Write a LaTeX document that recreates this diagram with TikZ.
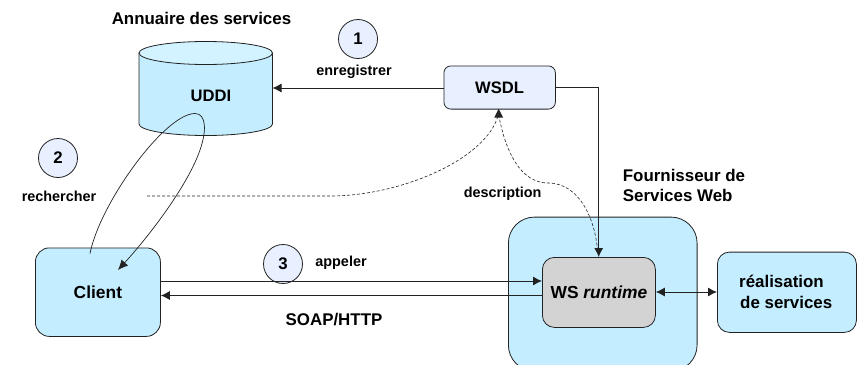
\documentclass[tikz,border=0pt]{standalone}
\usepackage{fontspec}
\setmainfont{Liberation Sans}
\usetikzlibrary{arrows.meta}
\definecolor{boxblue}{HTML}{C4EEFF}
\definecolor{topblue}{HTML}{D2F3FF}
\definecolor{paleblue}{HTML}{E8EFFF}
\definecolor{wsgray}{HTML}{D3D3D3}
\definecolor{edge}{HTML}{222222}
\tikzset{
  x=1pt,y=-1pt,
  every node/.style={font=\bfseries\fontsize{16.6}{20}\selectfont,inner sep=0pt,text=black},
  smalltxt/.style={font=\bfseries\fontsize{14.4}{17}\selectfont},
  bigtxt/.style={font=\bfseries\fontsize{16.9}{20}\selectfont},
  rbox/.style={draw=edge,line width=0.8pt,fill=boxblue,rounded corners=#1},
  rbox/.default=14pt,
  num/.style={circle,draw=edge,line width=0.8pt,fill=paleblue,minimum size=39pt,font=\bfseries\fontsize{16.8}{20}\selectfont},
  conn/.style={draw=edge,line width=0.9pt,-{Latex[length=9pt,width=9pt]}},
  dashline/.style={draw=edge,line width=0.6pt,dash pattern=on 3pt off 2pt},
}
\begin{document}
\begin{tikzpicture}
\useasboundingbox (0,0) rectangle (861,364);
% provider
\node[rbox=26pt,anchor=north west,minimum width=188.7pt,minimum height=154pt] (prov) at (508,216.7) {};
% UDDI cylinder
\path[draw=edge,line width=0.8pt,fill=boxblue] (139,53) -- (139,124) arc[start angle=180,end angle=360,x radius=66.75pt,y radius=11.5pt] -- (272.5,53) -- cycle;
\path[draw=edge,line width=0.8pt,fill=topblue] (205.75,53) ellipse[x radius=66.75pt,y radius=11.5pt];
\node (uddi) at (211,96) {UDDI};
\coordinate (uddiport) at (272.5,88);
\node[bigtxt] (annu) at (201.5,18) {Annuaire des services};
% boxes
\node[rbox=7pt,fill=paleblue,anchor=north west,minimum width=111.5pt,minimum height=43.2pt] (wsdl) at (443.5,65.5) {WSDL};
\node[rbox,anchor=north west,minimum width=125pt,minimum height=88.5pt] (client) at (35,247.5) {\fontsize{17.4}{20}\selectfont Client};
\node[rbox=12pt,fill=wsgray,anchor=north west,minimum width=113pt,minimum height=70pt] (ws) at (542,257) {\fontsize{17.4}{20}\selectfont WS \textit{runtime}};
\node[rbox=12pt,anchor=north west,minimum width=139pt,minimum height=80.3pt] (real) at (717,251.7) {};
\node[bigtxt,anchor=west] (real1) at (739,281.5) {réalisation};
\node[bigtxt,anchor=west] (real2) at (740,302.5) {de services};
% numbers and labels
\node[num] (n1) at (358,39) {1};
\node[num] (n2) at (58,158) {2};
\node[num] (n3) at (283,264) {3};
\node[smalltxt] (l1) at (354,72) {enregistrer};
\node[smalltxt] (l2) at (59,196) {rechercher};
\node[smalltxt] (l3) at (341,263) {appeler};
\node[smalltxt] (l4) at (502.7,194) {description};
\node[bigtxt] (soap) at (334,320) {SOAP/HTTP};
\node[bigtxt,anchor=west] (f1) at (622.7,175) {Fournisseur de};
\node[bigtxt,anchor=west] (f2) at (622.7,195) {Services Web};
% coordinates
\coordinate (a1) at (90,253.5);
\coordinate (a2) at (118,270);
\coordinate (top) at (195,113.5);
\coordinate (d0) at (147,196);
\coordinate (dtop) at (498.7,108.7);
\coordinate (dmid) at (548,183);
\coordinate (wstop) at (598.7,257);
\coordinate (wstopd) at (597.5,250);
% connectors
\draw[conn] (wsdl.west |- uddiport) -- (uddiport);
\draw[conn] (wsdl.east) -- (wstop |- wsdl.east) -- (wstop);
\draw[conn] (client.east |- 0,281) -- (ws.west |- 0,281);
\draw[conn] (ws.west |- 0,295.5) -- (client.east |- 0,295.5);
\draw[draw=edge,line width=0.9pt,{Latex[length=9pt,width=9pt]}-{Latex[length=9pt,width=9pt]}] (ws.east |- 0,292) -- (real.west |- 0,292);
\draw[draw=edge,line width=0.7pt] (a1) .. controls (100,203) and (165,113.5) .. (top);
\draw[draw=edge,line width=0.7pt,-{Latex[length=10pt,width=9pt]}] (top) .. controls (206,113.5) and (207,130) .. (200,150) .. controls (188,185) and (150,235) .. (a2);
\draw[dashline] (d0) -- (330,196) .. controls (400,196) and (485,160) .. (498,116);
\draw[dashline] (dtop) ++(0,6) .. controls (505,150) and (520,183) .. (dmid) .. controls (580,183) and (595,220) .. (wstopd);
\fill[edge] (dtop) -- ++(4.5,9) -- ++(-9,0) -- cycle;
\end{tikzpicture}
\end{document}
